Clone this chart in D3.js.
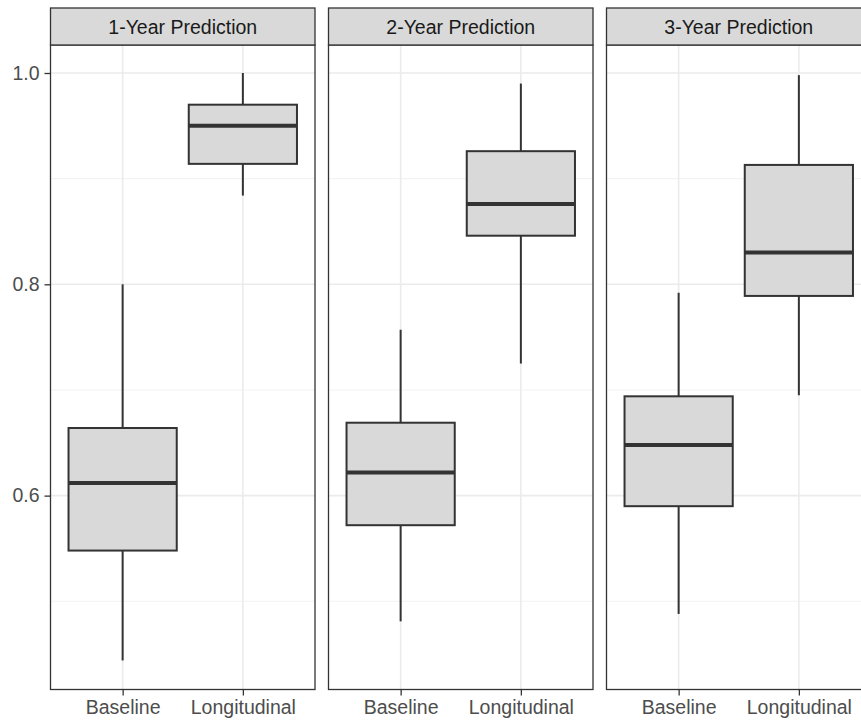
<!DOCTYPE html>
<html>
<head>
<meta charset="utf-8">
<script src="https://cdn.jsdelivr.net/npm/d3@7"></script>
<style>
  html, body { margin: 0; padding: 0; background: #ffffff; }
  svg { display: block; font-family: "Liberation Sans", Arial, Helvetica, sans-serif; }
</style>
</head>
<body>
<svg id="chart" width="861" height="724"></svg>
<script>
// Facets and groups
const horizons = ["1-Year Prediction", "2-Year Prediction", "3-Year Prediction"];
const groups = ["Baseline", "Longitudinal"];

// Box summary statistics per facet, in group order
const whiskerLow  = [[0.444, 0.884], [0.481, 0.725], [0.488, 0.695]];
const quartile1   = [[0.548, 0.914], [0.572, 0.846], [0.590, 0.789]];
const medians     = [[0.612, 0.950], [0.622, 0.876], [0.648, 0.830]];
const quartile3   = [[0.664, 0.970], [0.669, 0.926], [0.694, 0.913]];
const whiskerHigh = [[0.800, 1.000], [0.757, 0.990], [0.792, 0.998]];

// Axis ticks
const majorTicks = [0.6, 0.8, 1.0];
const minorTicks = [0.5, 0.7, 0.9];
const yDomain = [0.4165, 1.0265];

const svg = d3.select("#chart");

const panelW = 264.5, gap = 13.5;
const panelLeft = 50.5, panelTop = 45, panelBottom = 689.5;
const stripTop = 8;

const y = d3.scaleLinear().domain(yDomain).range([panelBottom, panelTop]);
const x = d3.scalePoint().domain(groups).range([0, panelW]).padding(0.6);
const boxW = x.step() * 0.9;

const dark = "#333333";

horizons.forEach((h, i) => {
  const x0 = panelLeft + i * (panelW + gap);
  const g = svg.append("g").attr("transform", `translate(${x0},0)`);

  // panel background
  g.append("rect").attr("x", 0).attr("y", panelTop)
    .attr("width", panelW).attr("height", panelBottom - panelTop)
    .attr("fill", "#ffffff");

  // minor grid
  g.selectAll(".minor").data(minorTicks).join("line")
    .attr("x1", 0).attr("x2", panelW)
    .attr("y1", d => y(d)).attr("y2", d => y(d))
    .attr("stroke", "#F2F2F2").attr("stroke-width", 1);

  // major grid
  g.selectAll(".majorY").data(majorTicks).join("line")
    .attr("x1", 0).attr("x2", panelW)
    .attr("y1", d => y(d)).attr("y2", d => y(d))
    .attr("stroke", "#EBEBEB").attr("stroke-width", 1.6);
  g.selectAll(".majorX").data(groups).join("line")
    .attr("y1", panelTop).attr("y2", panelBottom)
    .attr("x1", d => x(d)).attr("x2", d => x(d))
    .attr("stroke", "#EBEBEB").attr("stroke-width", 1.6);

  // boxes
  groups.forEach((grp, j) => {
    const cx = x(grp);
    const b = g.append("g");
    b.append("line").attr("x1", cx).attr("x2", cx)
      .attr("y1", y(quartile3[i][j])).attr("y2", y(whiskerHigh[i][j]))
      .attr("stroke", dark).attr("stroke-width", 2);
    b.append("line").attr("x1", cx).attr("x2", cx)
      .attr("y1", y(quartile1[i][j])).attr("y2", y(whiskerLow[i][j]))
      .attr("stroke", dark).attr("stroke-width", 2);
    b.append("rect")
      .attr("x", cx - boxW / 2).attr("width", boxW)
      .attr("y", y(quartile3[i][j]))
      .attr("height", y(quartile1[i][j]) - y(quartile3[i][j]))
      .attr("fill", "#D9D9D9").attr("stroke", dark).attr("stroke-width", 2);
    b.append("line")
      .attr("x1", cx - boxW / 2).attr("x2", cx + boxW / 2)
      .attr("y1", y(medians[i][j])).attr("y2", y(medians[i][j]))
      .attr("stroke", dark).attr("stroke-width", 4);
  });

  // panel border
  g.append("rect").attr("x", 0).attr("y", panelTop)
    .attr("width", panelW).attr("height", panelBottom - panelTop)
    .attr("fill", "none").attr("stroke", dark).attr("stroke-width", 1.3);

  // strip
  g.append("rect").attr("x", 0).attr("y", stripTop)
    .attr("width", panelW).attr("height", panelTop - stripTop)
    .attr("fill", "#D9D9D9").attr("stroke", dark).attr("stroke-width", 1.3);
  g.append("text").attr("x", panelW / 2).attr("y", (stripTop + panelTop) / 2)
    .attr("text-anchor", "middle").attr("dominant-baseline", "central")
    .attr("font-size", 19.5).attr("fill", "#1A1A1A").text(h);

  // x axis
  const xa = g.append("g").attr("transform", `translate(0,${panelBottom})`)
    .call(d3.axisBottom(x).tickSize(6).tickPadding(5));
  xa.select(".domain").remove();
  xa.selectAll(".tick line").attr("stroke", dark).attr("stroke-width", 1.3);
  xa.selectAll(".tick text").attr("font-size", 19.5).attr("fill", "#4D4D4D")
    .attr("font-family", "Liberation Sans, Arial, sans-serif");
});

// y axis on the first panel
const ya = svg.append("g").attr("transform", `translate(${panelLeft},0)`)
  .call(d3.axisLeft(y).tickValues(majorTicks).tickFormat(d3.format(".1f")).tickSize(6).tickPadding(5));
ya.select(".domain").remove();
ya.selectAll(".tick line").attr("stroke", dark).attr("stroke-width", 1.3);
ya.selectAll(".tick text").attr("font-size", 19.5).attr("fill", "#4D4D4D")
  .attr("font-family", "Liberation Sans, Arial, sans-serif");
</script>
</body>
</html>
